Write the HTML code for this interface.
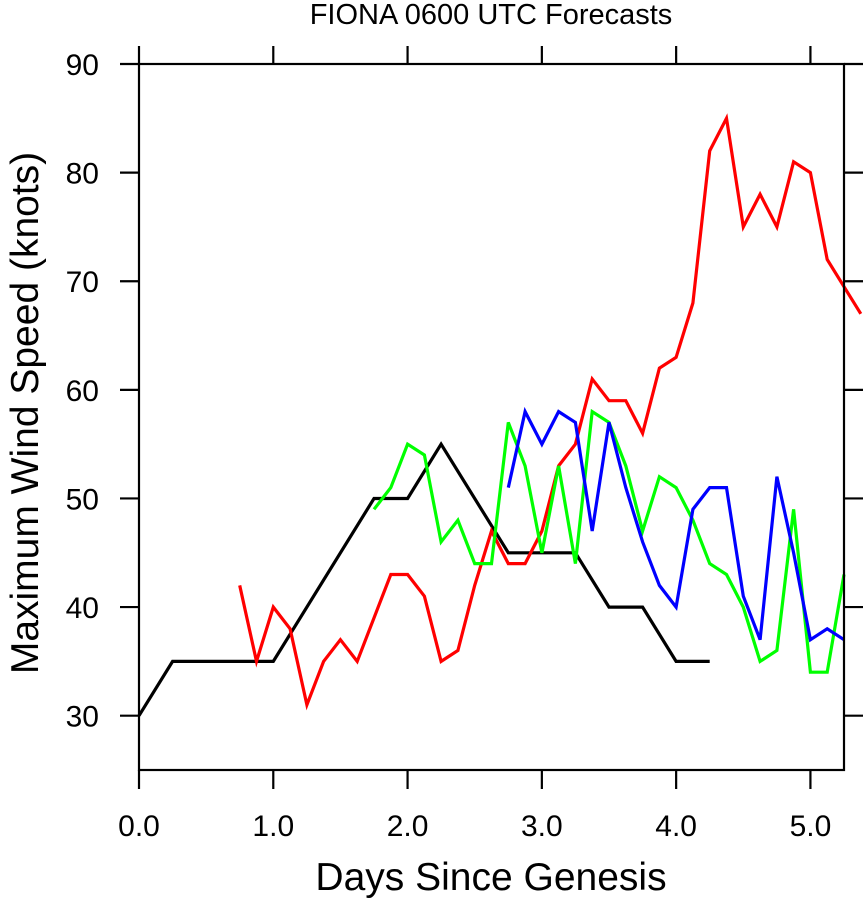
<!DOCTYPE html>
<html><head><meta charset="utf-8"><style>
body{margin:0;background:#fff;}
svg{display:block;font-family:"Liberation Sans",sans-serif;}
</style></head><body>
<svg id="c" width="863" height="900"></svg>
<script>
const xTicks=[0,1,2,3,4,5];
const xTickLabels=["0.0","1.0","2.0","3.0","4.0","5.0"];
const yTicks=[30,40,50,60,70,80,90];
const blackX=[0,0.25,1.0,1.75,2.0,2.25,2.75,3.25,3.5,3.75,4.0,4.25];
const blackY=[30,35,35,50,50,55,45,45,40,40,35,35];
const redX=[0.75,0.875,1,1.125,1.25,1.375,1.5,1.625,1.75,1.875,2,2.125,2.25,2.375,2.5,2.625,2.75,2.875,3,3.125,3.25,3.375,3.5,3.625,3.75,3.875,4,4.125,4.25,4.375,4.5,4.625,4.75,4.875,5,5.125,5.25,5.375];
const redY=[42,35,40,38,31,35,37,35,39,43,43,41,35,36,42,47,44,44,47,53,55,61,59,59,56,62,63,68,82,85,75,78,75,81,80,72,69.5,67];
const greenX=[1.75,1.875,2,2.125,2.25,2.375,2.5,2.625,2.75,2.875,3,3.125,3.25,3.375,3.5,3.625,3.75,3.875,4,4.125,4.25,4.375,4.5,4.625,4.75,4.875,5,5.125,5.25];
const greenY=[49,51,55,54,46,48,44,44,57,53,45,53,44,58,57,53,47,52,51,48,44,43,40,35,36,49,34,34,43];
const blueX=[2.75,2.875,3,3.125,3.25,3.375,3.5,3.625,3.75,3.875,4,4.125,4.25,4.375,4.5,4.625,4.75,4.875,5,5.125,5.25];
const blueY=[51,58,55,58,57,47,57,51,46,42,40,49,51,51,41,37,52,45,37,38,37];

const L=139,R=844,T=64,B=770,XMIN=0,XMAX=5.25,YMIN=25,YMAX=90;
const sx=v=>L+(v-XMIN)/(XMAX-XMIN)*(R-L);
const sy=v=>B-(v-YMIN)/(YMAX-YMIN)*(B-T);
const svg=document.getElementById('c');
const NS='http://www.w3.org/2000/svg';
function mk(tag,attrs,parent){const e=document.createElementNS(NS,tag);for(const k in attrs)e.setAttribute(k,attrs[k]);(parent||svg).appendChild(e);return e;}

function series(xs,ys,color,name){
  const d=xs.map((x,i)=>(i?'L':'M')+sx(x).toFixed(1)+','+sy(ys[i]).toFixed(1)).join('');
  const p=mk('path',{d:d,fill:'none',stroke:color,'stroke-width':3.2,'stroke-linejoin':'miter'});
  
  
}
series(blackX,blackY,'#000','series-black');
series(redX,redY,'#ff0000','series-red');
series(greenX,greenY,'#00ff00','series-green');
series(blueX,blueY,'#0000ff','series-blue');

const frame=mk('rect',{x:L,y:T,width:R-L,height:B-T,fill:'none',stroke:'#000','stroke-width':2.2});



xTicks.forEach((v,i)=>{
  const x=sx(v);
  mk('line',{x1:x,y1:B,x2:x,y2:B+19,stroke:'#000','stroke-width':2.2});
  mk('line',{x1:x,y1:T,x2:x,y2:T-18,stroke:'#000','stroke-width':2.2});
  const t=mk('text',{x:x,y:836,'font-size':30,'text-anchor':'middle'});
  t.textContent=xTickLabels[i];
  
  
});
yTicks.forEach(v=>{
  const y=sy(v);
  mk('line',{x1:L-19,y1:y,x2:L,y2:y,stroke:'#000','stroke-width':2.2});
  mk('line',{x1:R,y1:y,x2:R+19,y2:y,stroke:'#000','stroke-width':2.2});
  const t=mk('text',{x:99,y:y+11,'font-size':30,'text-anchor':'end'});
  t.textContent=String(v);
  
  
});

const title=mk('text',{x:491,y:24,'font-size':29,'text-anchor':'middle'});
title.textContent='FIONA 0600 UTC Forecasts';



const xt=mk('text',{x:491,y:890,'font-size':39,'text-anchor':'middle'});
xt.textContent='Days Since Genesis';



const yt=mk('text',{x:0,y:0,'font-size':39,'text-anchor':'middle',transform:'translate(38,413) rotate(-90)'});
yt.textContent='Maximum Wind Speed (knots)';


</script>
</body></html>
